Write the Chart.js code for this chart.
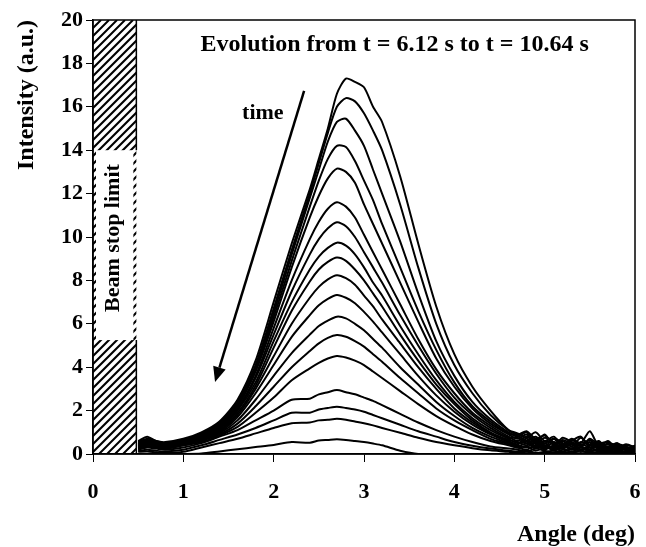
<!DOCTYPE html>
<html>
<head>
<meta charset="utf-8">
<script src="https://cdn.jsdelivr.net/npm/chart.js@4.4.1/dist/chart.umd.min.js"></script>
<style>
  body { margin: 0; background: #fff; }
  canvas { display: block; }
</style>
</head>
<body>
<canvas id="chart" width="646" height="547"></canvas>
<script>
// angle grid (deg) shared by every curve
const angle = [0.5, 0.6, 0.7, 0.8, 1.0, 1.2, 1.4, 1.6, 1.8, 2.0, 2.2, 2.4, 2.5, 2.6, 2.7, 2.8, 2.9,
  3.0, 3.1, 3.2, 3.4, 3.6, 3.8, 4.0, 4.2, 4.4, 4.6,
  4.7, 4.8, 4.9, 5.0, 5.1, 5.2, 5.3, 5.4, 5.5, 5.6, 5.7, 5.8, 5.9, 6.0];

// intensity curves, latest (t = 10.64 s) first
const curve01 = [0.6, 0.8, 0.6, 0.55, 0.7, 1.0, 1.5, 2.5, 4.3, 7.0, 9.7, 12.2, 13.6, 15.0, 16.6, 17.3, 17.15, 16.9, 16.0, 15.3, 12.8, 9.7, 6.8, 4.6, 3.1, 2.0, 1.1,
  0.9, 1.05, 0.7, 0.85, 0.5, 0.6, 0.35, 0.75, 0.4, 0.55, 0.3, 0.5, 0.25, 0.35];
const curve02 = [0.55, 0.7, 0.6, 0.5, 0.65, 0.95, 1.45, 2.4, 4.1, 6.7, 9.4, 12.0, 13.4, 14.8, 16.0, 16.4, 16.25, 15.7, 14.9, 14.0, 11.5, 8.6, 6.0, 4.1, 2.8, 1.8, 1.1,
  0.95, 0.75, 1.0, 0.6, 0.8, 0.45, 0.7, 0.5, 1.05, 0.35, 0.6, 0.25, 0.45, 0.3];
const curve03 = [0.5, 0.65, 0.55, 0.5, 0.6, 0.9, 1.4, 2.3, 4.0, 6.5, 9.2, 11.8, 13.1, 14.4, 15.3, 15.45, 14.9, 14.2, 13.1, 12.0, 9.8, 7.4, 5.2, 3.6, 2.4, 1.6, 1.0,
  0.8, 1.0, 0.55, 0.9, 0.4, 0.75, 0.55, 0.4, 0.65, 0.3, 0.5, 0.4, 0.2, 0.35];
const curve04 = [0.5, 0.6, 0.55, 0.45, 0.6, 0.9, 1.35, 2.25, 3.9, 6.3, 8.9, 11.4, 12.6, 13.6, 14.2, 14.15, 13.5, 12.6, 11.7, 10.6, 8.6, 6.6, 4.8, 3.3, 2.2, 1.5, 0.95,
  0.85, 0.6, 0.8, 0.5, 0.7, 0.35, 0.6, 0.8, 0.3, 0.5, 0.25, 0.45, 0.35, 0.15];
const curve05 = [0.45, 0.6, 0.5, 0.45, 0.6, 0.85, 1.3, 2.2, 3.8, 6.1, 8.6, 10.9, 11.9, 12.7, 13.15, 13.0, 12.5, 11.5, 10.6, 9.7, 7.9, 6.1, 4.4, 3.1, 2.1, 1.4, 0.9,
  0.7, 0.9, 0.45, 0.75, 0.55, 0.3, 0.65, 0.4, 0.55, 0.25, 0.45, 0.2, 0.4, 0.3];
const curve06 = [0.45, 0.6, 0.5, 0.45, 0.6, 0.85, 1.25, 2.1, 3.6, 5.8, 8.0, 9.9, 10.7, 11.3, 11.6, 11.4, 10.9, 10.1, 9.3, 8.5, 6.9, 5.3, 3.9, 2.8, 1.9, 1.3, 0.8,
  0.6, 0.8, 0.5, 0.35, 0.7, 0.5, 0.25, 0.55, 0.45, 0.6, 0.2, 0.35, 0.25, 0.4];
const curve07 = [0.4, 0.55, 0.45, 0.4, 0.55, 0.8, 1.2, 2.05, 3.5, 5.5, 7.5, 9.2, 9.9, 10.4, 10.68, 10.5, 10.0, 9.3, 8.6, 7.9, 6.4, 5.0, 3.7, 2.6, 1.8, 1.2, 0.75,
  0.75, 0.5, 0.7, 0.4, 0.3, 0.65, 0.45, 0.3, 0.7, 0.4, 0.3, 0.5, 0.15, 0.25];
const curve08 = [0.4, 0.55, 0.45, 0.4, 0.5, 0.75, 1.15, 2.0, 3.3, 5.2, 7.0, 8.5, 9.1, 9.5, 9.74, 9.6, 9.2, 8.6, 7.9, 7.3, 5.9, 4.6, 3.4, 2.4, 1.65, 1.1, 0.7,
  0.5, 0.7, 0.35, 0.6, 0.45, 0.25, 0.5, 0.35, 0.2, 0.45, 0.55, 0.2, 0.3, 0.2];
const curve09 = [0.35, 0.5, 0.4, 0.35, 0.5, 0.75, 1.1, 1.9, 3.15, 4.9, 6.6, 7.95, 8.5, 8.85, 9.05, 8.9, 8.5, 8.0, 7.4, 6.8, 5.5, 4.3, 3.2, 2.3, 1.55, 1.0, 0.65,
  0.55, 0.4, 0.65, 0.3, 0.55, 0.4, 0.2, 0.45, 0.3, 0.35, 0.15, 0.4, 0.2, 0.3];
const curve10 = [0.35, 0.5, 0.4, 0.35, 0.5, 0.7, 1.05, 1.8, 3.0, 4.5, 6.0, 7.2, 7.7, 8.05, 8.24, 8.1, 7.8, 7.3, 6.8, 6.2, 5.1, 4.0, 3.0, 2.1, 1.45, 0.95, 0.6,
  0.45, 0.6, 0.3, 0.5, 0.25, 0.45, 0.35, 0.15, 0.4, 0.25, 0.35, 0.15, 0.3, 0.1];
const curve11 = [0.3, 0.45, 0.35, 0.3, 0.45, 0.7, 1.0, 1.7, 2.8, 4.1, 5.4, 6.4, 6.85, 7.15, 7.33, 7.2, 6.95, 6.55, 6.1, 5.6, 4.6, 3.6, 2.7, 1.95, 1.35, 0.9, 0.55,
  0.4, 0.3, 0.55, 0.2, 0.4, 0.3, 0.45, 0.2, 0.3, 0.15, 0.35, 0.25, 0.1, 0.2];
const curve12 = [0.3, 0.4, 0.35, 0.3, 0.45, 0.65, 0.95, 1.55, 2.5, 3.6, 4.65, 5.5, 5.9, 6.15, 6.33, 6.25, 6.0, 5.7, 5.3, 4.9, 4.0, 3.2, 2.4, 1.75, 1.2, 0.8, 0.5,
  0.35, 0.5, 0.25, 0.4, 0.15, 0.35, 0.25, 0.3, 0.1, 0.25, 0.15, 0.3, 0.2, 0.1];
const curve13 = [0.25, 0.4, 0.3, 0.25, 0.4, 0.6, 0.9, 1.4, 2.2, 3.1, 4.0, 4.75, 5.1, 5.35, 5.48, 5.4, 5.2, 4.95, 4.6, 4.25, 3.5, 2.8, 2.1, 1.55, 1.1, 0.7, 0.45,
  0.3, 0.2, 0.4, 0.25, 0.35, 0.1, 0.25, 0.15, 0.3, 0.1, 0.2, 0.1, 0.25, 0.05];
const curve14 = [0.25, 0.35, 0.3, 0.25, 0.4, 0.55, 0.85, 1.25, 1.9, 2.6, 3.4, 3.95, 4.2, 4.4, 4.52, 4.45, 4.3, 4.1, 3.8, 3.5, 2.9, 2.3, 1.75, 1.3, 0.9, 0.6, 0.4,
  0.3, 0.35, 0.15, 0.3, 0.2, 0.25, 0.1, 0.3, 0.15, 0.2, 0.05, 0.15, 0.1, 0.15];
const curve15 = [0.2, 0.3, 0.25, 0.2, 0.3, 0.5, 0.8, 1.1, 1.55, 2.0, 2.5, 2.55, 2.75, 2.85, 2.95, 2.85, 2.75, 2.6, 2.45, 2.25, 1.85, 1.45, 1.1, 0.8, 0.55, 0.35, 0.25,
  0.2, 0.1, 0.25, 0.15, 0.05, 0.2, 0.1, 0.15, 0.05, 0.1, 0.15, 0.05, 0.1, 0.05];
const curve16 = [0.15, 0.2, 0.15, 0.12, 0.2, 0.4, 0.65, 0.9, 1.2, 1.55, 1.9, 1.9, 2.05, 2.12, 2.18, 2.12, 2.05, 1.95, 1.8, 1.65, 1.35, 1.05, 0.8, 0.55, 0.38, 0.25, 0.15,
  0.1, 0.15, 0.05, 0.1, 0.15, 0.05, 0.1, 0.0, 0.1, 0.05, 0.1, 0.0, 0.05, 0.1];
const curve17 = [0.1, 0.12, 0.08, 0.05, 0.1, 0.3, 0.5, 0.7, 0.95, 1.2, 1.42, 1.45, 1.55, 1.58, 1.62, 1.58, 1.5, 1.42, 1.32, 1.2, 0.98, 0.75, 0.55, 0.4, 0.27, 0.17, 0.1,
  0.05, 0.1, 0.0, 0.08, 0.03, 0.1, 0.0, 0.05, 0.0, 0.08, 0.0, 0.05, 0.0, 0.03];
const curve18 = [0, 0, 0, 0, 0, 0.02, 0.12, 0.22, 0.32, 0.42, 0.55, 0.52, 0.62, 0.65, 0.68, 0.65, 0.6, 0.55, 0.48, 0.4, 0.15, 0, 0, 0, 0, 0, 0,
  0, 0, 0, 0, 0, 0, 0, 0, 0, 0, 0, 0, 0, 0];

const curves = [curve01, curve02, curve03, curve04, curve05, curve06, curve07, curve08, curve09,
  curve10, curve11, curve12, curve13, curve14, curve15, curve16, curve17, curve18];

const xTicksMax = 6;
const yTicksMax = 20;
const beamStopEdge = 0.48;
const beamLabelBox = [5.25, 14];

const serif = '"Liberation Serif", "Times New Roman", serif';

// hatched beam-stop zone, drawn under the curves
const beamStopPlugin = {
  id: 'beamStop',
  beforeDatasetsDraw(chart) {
    const { ctx, chartArea, scales: { x, y } } = chart;
    const x0 = x.getPixelForValue(0);
    const x1 = x.getPixelForValue(beamStopEdge);
    const top = chartArea.top, bottom = chartArea.bottom;
    const h = bottom - top;
    ctx.save();
    ctx.beginPath();
    ctx.rect(x0, top, x1 - x0, h);
    ctx.clip();
    ctx.strokeStyle = '#000';
    ctx.lineWidth = 2;
    ctx.beginPath();
    for (let d = -h; d < x1 - x0 + 10; d += 8) {
      ctx.moveTo(x0 + d, bottom);
      ctx.lineTo(x0 + d + h, top);
    }
    ctx.stroke();
    ctx.restore();

    const bTop = y.getPixelForValue(beamLabelBox[1]);
    const bBot = y.getPixelForValue(beamLabelBox[0]);
    ctx.save();
    ctx.fillStyle = '#fff';
    ctx.fillRect(x0 + 3, bTop, x1 - x0 - 6, bBot - bTop);
    ctx.strokeStyle = '#000';
    ctx.lineWidth = 1.5;
    ctx.beginPath();
    ctx.moveTo(x1, top); ctx.lineTo(x1, bTop);
    ctx.moveTo(x1, bBot); ctx.lineTo(x1, bottom);
    ctx.stroke();
    ctx.translate((x0 + x1) / 2 - 1, y.getPixelForValue(9.95));
    ctx.rotate(-Math.PI / 2);
    ctx.fillStyle = '#000';
    ctx.font = 'bold 22px ' + serif;
    ctx.textAlign = 'center';
    ctx.textBaseline = 'middle';
    ctx.fillText('Beam stop limit', 0, 0);
    ctx.restore();
  }
};

// frame, time arrow and texts
const notesPlugin = {
  id: 'notes',
  afterDraw(chart) {
    const { ctx, chartArea, scales: { x, y } } = chart;
    ctx.save();
    ctx.strokeStyle = '#000';
    ctx.lineWidth = 1.5;
    ctx.strokeRect(chartArea.left, chartArea.top, chartArea.right - chartArea.left, chartArea.bottom - chartArea.top);

    const ax = x.getPixelForValue(2.337), ay = y.getPixelForValue(16.73);
    const bx = x.getPixelForValue(1.351), by = y.getPixelForValue(3.32);
    const ang = Math.atan2(by - ay, bx - ax);
    const headLen = 15, headW = 6.5;
    const baseX = bx - headLen * Math.cos(ang), baseY = by - headLen * Math.sin(ang);
    ctx.lineWidth = 2.5;
    ctx.beginPath();
    ctx.moveTo(ax, ay);
    ctx.lineTo(baseX, baseY);
    ctx.stroke();
    ctx.fillStyle = '#000';
    ctx.beginPath();
    ctx.moveTo(bx, by);
    ctx.lineTo(baseX + headW * Math.sin(ang), baseY - headW * Math.cos(ang));
    ctx.lineTo(baseX - headW * Math.sin(ang), baseY + headW * Math.cos(ang));
    ctx.closePath();
    ctx.fill();

    ctx.textAlign = 'center';
    ctx.textBaseline = 'middle';
    ctx.font = 'bold 22px ' + serif;
    ctx.fillText('time', x.getPixelForValue(1.88), y.getPixelForValue(15.7));
    ctx.font = 'bold 24px ' + serif;
    ctx.fillText('Evolution from t = 6.12 s to t = 10.64 s', x.getPixelForValue(3.34), y.getPixelForValue(18.85));
    ctx.restore();
  }
};

const datasets = curves.map((vals, i) => ({
  label: 'curve ' + (i + 1),
  data: vals.map((v, j) => ({ x: angle[j], y: v })),
  borderColor: '#000',
  borderWidth: 2,
  pointRadius: 0,
  tension: 0.25,
  fill: false
}));

const tickFont = { family: serif, size: 22, weight: 'bold' };
const titleFont = { family: serif, size: 24, weight: 'bold', lineHeight: 1 };

new Chart(document.getElementById('chart').getContext('2d'), {
  type: 'line',
  data: { datasets },
  options: {
    responsive: false,
    animation: false,
    layout: { padding: { top: 20, right: 11, left: 0, bottom: 0 } },
    plugins: {
      legend: { display: false },
      tooltip: { enabled: false }
    },
    scales: {
      x: {
        type: 'linear',
        min: 0,
        max: xTicksMax,
        ticks: { stepSize: 1, color: '#000', font: tickFont, padding: 17, maxRotation: 0 },
        grid: { drawOnChartArea: false, tickLength: 8, color: '#000', lineWidth: 1 },
        border: { color: '#000', width: 1.5 },
        title: { display: true, text: 'Angle (deg)', align: 'end', color: '#000', font: titleFont, padding: 0 },
        afterFit: s => { s.height = 93; s.paddingLeft = 0; s.paddingRight = 0; }
      },
      y: {
        min: 0,
        max: yTicksMax,
        ticks: { stepSize: 2, color: '#000', font: tickFont, padding: 3 },
        grid: { drawOnChartArea: false, tickLength: 7, color: '#000', lineWidth: 1 },
        border: { color: '#000', width: 1.5 },
        title: { display: true, text: 'Intensity (a.u.)', align: 'end', color: '#000', font: titleFont, padding: { top: 15, bottom: 0 } },
        afterFit: s => { s.width = 93; s.paddingTop = 0; s.paddingBottom = 0; }
      }
    }
  },
  plugins: [beamStopPlugin, notesPlugin]
});
</script>
</body>
</html>
